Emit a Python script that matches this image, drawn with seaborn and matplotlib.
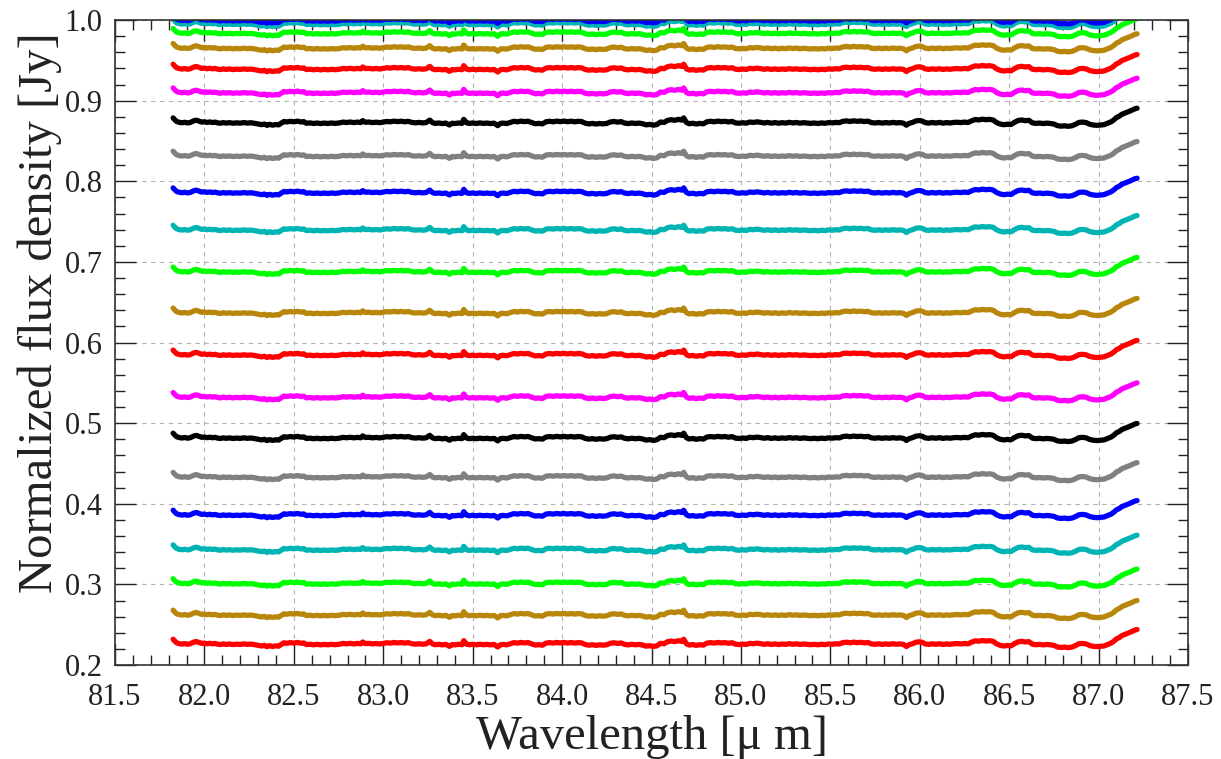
import numpy as np
import pandas as pd
import matplotlib
matplotlib.use("Agg")
import matplotlib.pyplot as plt
import seaborn as sns
from matplotlib.ticker import MultipleLocator, FormatStrFormatter

# Common spectral shape shared by all spectra: wavelength grid [micron] and
# departure from each spectrum's continuum level [1e-3 Jy]
WAVELENGTH = [
    81.825, 81.835, 81.845, 81.86, 81.875, 81.89, 81.905, 81.92, 81.94, 81.955,
    81.97, 81.985, 82.00, 82.015, 82.03, 82.045, 82.06, 82.075, 82.09, 82.105,
    82.12, 82.14, 82.16, 82.18, 82.20, 82.22, 82.24, 82.26, 82.28, 82.30,
    82.32, 82.335, 82.35, 82.365, 82.38, 82.40, 82.415, 82.43, 82.445, 82.46,
    82.48, 82.50, 82.52, 82.54, 82.555, 82.57, 82.59, 82.61, 82.63, 82.65,
    82.67, 82.69, 82.71, 82.73, 82.755, 82.775, 82.795, 82.815, 82.835, 82.855,
    82.875, 82.885, 82.90, 82.92, 82.94, 82.96, 82.98, 83.00, 83.02, 83.04,
    83.06, 83.08, 83.10, 83.12, 83.14, 83.16, 83.18, 83.20, 83.22, 83.24,
    83.26, 83.275, 83.29, 83.31, 83.33, 83.35, 83.37, 83.385, 83.40, 83.42,
    83.44, 83.45, 83.465, 83.48, 83.50, 83.52, 83.54, 83.56, 83.58, 83.60,
    83.62, 83.64, 83.655, 83.67, 83.69, 83.71, 83.73, 83.75, 83.77, 83.79,
    83.81, 83.83, 83.85, 83.87, 83.89, 83.91, 83.93, 83.95, 83.97, 83.99,
    84.01, 84.03, 84.05, 84.07, 84.09, 84.11, 84.13, 84.15, 84.17, 84.19,
    84.21, 84.23, 84.25, 84.27, 84.29, 84.31, 84.33, 84.35, 84.37, 84.39,
    84.41, 84.43, 84.45, 84.47, 84.49, 84.51, 84.53, 84.55, 84.57, 84.59,
    84.61, 84.63, 84.65, 84.67, 84.68, 84.695, 84.71, 84.73, 84.75, 84.77,
    84.79, 84.81, 84.83, 84.85, 84.87, 84.89, 84.91, 84.93, 84.95, 84.97,
    84.99, 85.01, 85.03, 85.05, 85.07, 85.09, 85.11, 85.13, 85.15, 85.17,
    85.19, 85.21, 85.23, 85.25, 85.27, 85.29, 85.31, 85.33, 85.35, 85.37,
    85.39, 85.41, 85.43, 85.45, 85.47, 85.49, 85.51, 85.53, 85.55, 85.57,
    85.59, 85.61, 85.63, 85.65, 85.67, 85.69, 85.71, 85.73, 85.75, 85.77,
    85.79, 85.81, 85.83, 85.85, 85.87, 85.89, 85.91, 85.925, 85.94, 85.96,
    85.98, 86.00, 86.015, 86.03, 86.05, 86.07, 86.09, 86.11, 86.13, 86.15,
    86.17, 86.19, 86.21, 86.23, 86.25, 86.27, 86.29, 86.31, 86.33, 86.35,
    86.37, 86.39, 86.41, 86.43, 86.45, 86.47, 86.49, 86.51, 86.53, 86.55,
    86.57, 86.59, 86.61, 86.63, 86.65, 86.67, 86.69, 86.71, 86.73, 86.75,
    86.77, 86.79, 86.81, 86.83, 86.85, 86.87, 86.89, 86.91, 86.93, 86.95,
    86.97, 86.99, 87.01, 87.03, 87.05, 87.07, 87.085, 87.10, 87.115, 87.13,
    87.145, 87.16, 87.175, 87.19, 87.205, 87.215,
]
SHAPE_MJY = [
    6.0, 3.5, 1.5, 0.5, 0.0, 0.6, -0.2, 0.3, 2.4, 3.2,
    2.0, 0.8, 1.2, 0.4, 1.0, 0.3, 0.8, -0.2, -0.6, 0.2,
    -0.4, 0.1, -0.6, -0.1, -0.5, 0.2, -0.4, 0.0, -0.7, -1.6,
    -2.4, -1.6, -3.2, -2.0, -3.0, -2.2, -2.6, -0.4, 1.6, 1.0,
    1.8, 1.2, 2.0, 1.0, 1.4, -0.6, -0.2, -0.9, -0.3, -1.0,
    -0.4, -0.9, -0.3, -0.8, -0.2, 0.8, 0.3, 0.9, 0.2, 0.8,
    0.3, 2.6, 0.6, 0.9, 0.2, 0.7, 0.1, 0.8, 1.6, 1.2,
    2.0, 1.4, 1.9, 1.2, 1.8, 0.4, -0.1, 0.4, -0.2, 0.3,
    3.3, 0.2, -0.8, -0.3, -1.0, -0.4, -2.8, -0.6, -1.0, -0.3,
    -0.8, 4.2, 0.0, -0.8, -0.3, -0.9, -0.2, -0.8, -0.4, -1.0,
    -0.5, -3.6, -0.8, -0.4, -1.0, 0.4, 1.8, 1.2, 2.0, 1.4,
    1.9, 0.2, -1.2, -0.8, -1.4, 1.2, 1.8, 1.2, 2.0, 1.4,
    2.0, 1.3, 1.9, 1.2, 1.8, 1.4, -0.6, -1.4, -0.8, -1.6,
    -0.9, -1.4, -0.8, 1.0, 1.6, 0.8, 1.4, -0.4, -1.0, -0.3,
    -0.9, -0.4, -1.2, -2.6, -2.0, -3.0, -2.2, 0.9, 0.4, 3.0,
    3.8, 3.0, 4.2, 3.2, 6.0, 0.4, -1.2, -0.6, -1.6, -0.8,
    -1.3, 1.2, 1.8, 1.2, 2.0, 1.4, 1.8, 1.0, 1.7, -0.2,
    -0.6, 0.0, -0.5, 0.9, 0.4, 1.1, 0.5, -0.3, 0.4, -0.5,
    0.2, -0.6, 0.1, -0.4, 0.5, -0.2, 0.3, -0.5, 0.1, -0.4,
    -0.8, -0.3, -0.9, -0.2, -0.7, 0.2, -0.2, 0.4, 0.1, 1.8,
    2.3, 1.6, 2.4, 1.8, 2.2, 1.5, 2.0, 0.2, -0.3, 0.3,
    -0.4, 0.2, -0.3, 0.4, -0.2, 0.2, -0.6, -3.0, -0.8, 0.5,
    2.4, 2.8, 2.0, 0.2, -0.4, 0.3, -0.3, 0.4, -0.5, 0.2,
    -0.3, 0.4, 0.6, 0.2, 0.8, 0.3, 2.4, 4.0, 3.5, 4.4,
    3.8, 4.2, 3.4, 0.2, -1.6, -2.4, -1.8, -2.2, 0.6, 2.8,
    3.4, 2.6, 3.0, -0.2, -0.8, -0.4, -1.0, -0.5, -0.9, -1.6,
    -3.6, -4.2, -3.8, -4.4, -3.8, -2.0, 0.4, 0.8, 0.2, -1.8,
    -2.8, -3.2, -2.8, -2.4, -0.6, 1.2, 3.5, 6.5, 8.0, 10.5,
    11.8, 13.0, 14.5, 16.0, 17.5, 18.0,
]

# Continuum level of each spectrum [Jy], bottom to top
LEVELS = [
    0.226, 0.262, 0.301, 0.343, 0.386, 0.433, 0.4816, 0.532, 0.5846, 0.6367,
    0.6876, 0.7395, 0.7858, 0.8313, 0.8726, 0.9098, 0.9392, 0.9649, 0.9835,
    0.995, 0.9995,
]
CYCLE = ["#ff0000", "#b8860b", "#00ff00", "#00b4b4",
         "#0000ff", "#808080", "#000000", "#ff00ff"]

XTICKS = [81.5, 82.0, 82.5, 83.0, 83.5, 84.0, 84.5, 85.0, 85.5, 86.0, 86.5, 87.0, 87.5]
YTICKS = [0.2, 0.3, 0.4, 0.5, 0.6, 0.7, 0.8, 0.9, 1.0]

wave = np.array(WAVELENGTH)
shape = np.array(SHAPE_MJY) * 1e-3
frames = []
for i, level in enumerate(LEVELS):
    frames.append(pd.DataFrame({
        "wavelength": wave,
        "flux": level + shape,
        "spectrum": f"s{i:02d}",
    }))
df = pd.concat(frames, ignore_index=True)
palette = {f"s{i:02d}": CYCLE[i % len(CYCLE)] for i in range(len(LEVELS))}

sns.set_theme(style="ticks")
plt.rcParams["font.family"] = ["Liberation Serif", "DejaVu Serif"]

fig = plt.figure(figsize=(12.21, 7.59), dpi=100)
ax = fig.add_axes([0.0942, 0.1238, 0.8788, 0.8498])

sns.lineplot(data=df, x="wavelength", y="flux", hue="spectrum", palette=palette,
             estimator=None, sort=False, legend=False, linewidth=3.8, ax=ax)

ax.set_xlim(XTICKS[0], XTICKS[-1])
ax.set_ylim(YTICKS[0], YTICKS[-1])
ax.set_xticks(XTICKS)
ax.set_yticks(YTICKS)
ax.xaxis.set_major_formatter(FormatStrFormatter("%.1f"))
ax.yaxis.set_major_formatter(FormatStrFormatter("%.1f"))
ax.xaxis.set_minor_locator(MultipleLocator(0.1))
ax.yaxis.set_minor_locator(MultipleLocator(0.02))

ax.set_axisbelow(True)
ax.grid(True, which="major", linestyle=(0, (4, 4)), color="#b4b4b4", linewidth=0.8)

ax.tick_params(which="both", direction="in", top=True, right=True,
               color="#222222", width=1.0)
ax.tick_params(which="major", length=15, labelsize=22, labelcolor="#222222")
ax.tick_params(axis="x", which="major", pad=13)
ax.tick_params(axis="y", which="major", pad=9)
ax.tick_params(which="minor", length=7.5)
for side in ax.spines.values():
    side.set_color("#333333")
    side.set_linewidth(1.2)

ax.set_xlabel("Wavelength [\u03bc m]", fontsize=35, color="#222222", labelpad=2)
ax.set_ylabel("Normalized flux density [Jy]", fontsize=35, color="#222222")
ax.yaxis.set_label_coords(-0.049, 0.547)

fig.savefig("out.png", dpi=100)
